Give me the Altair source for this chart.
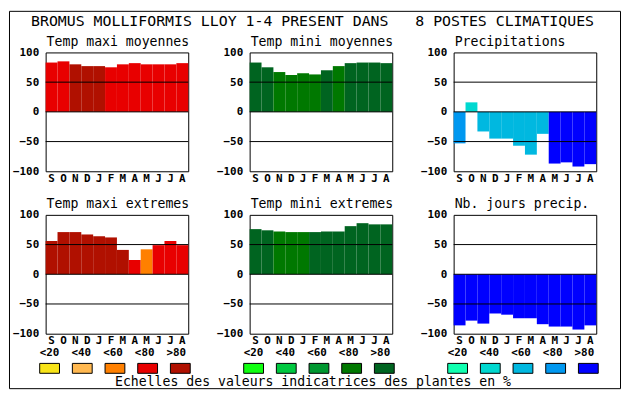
import altair as alt
import pandas as pd

# ---------------- data ----------------
months = ["Sept", "Oct", "Nov", "Dec", "Janv", "Fevr", "Mars", "Avr", "Mai", "Juin", "Juil", "Aout"]
classes = ["<20", "<40", "<60", "<80", ">80"]

red_colors = ["#f8e418", "#ffb850", "#ff8000", "#e80000", "#b01000"]
green_colors = ["#10ff10", "#00c840", "#009830", "#007800", "#006420"]
blue_colors = ["#10ffb0", "#00d8d0", "#00b8e0", "#0098f0", "#0000ff"]

main_title = "BROMUS MOLLIFORMIS LLOY 1-4 PRESENT DANS\u00a0\u00a0\u00a08 POSTES CLIMATIQUES"
legend_title = "Echelles des valeurs indicatrices des plantes en %"

titles = ["Temp maxi moyennes", "Temp mini moyennes", "Precipitations",
          "Temp maxi extremes", "Temp mini extremes", "Nb. jours precip."]

tmax_moy = [83, 85, 80, 77, 77, 75, 80, 82, 80, 80, 80, 82]
tmax_moy_cls = ["<80", "<80", ">80", ">80", ">80", "<80", "<80", "<80", "<80", "<80", "<80", "<80"]

tmin_moy = [83, 75, 67, 62, 65, 63, 70, 77, 82, 83, 83, 82]
tmin_moy_cls = [">80", ">80", "<80", "<80", "<80", "<80", ">80", "<80", ">80", ">80", ">80", ">80"]

precip = [-53, 16, -33, -45, -45, -57, -72, -37, -87, -85, -92, -88]
precip_cls = ["<80", "<40", "<60", "<60", "<60", "<60", "<60", "<60", ">80", ">80", ">80", ">80"]

tmax_ext = [56, 71, 71, 67, 64, 62, 41, 24, 42, 49, 56, 49]
tmax_ext_cls = [">80", ">80", ">80", ">80", ">80", ">80", ">80", "<80", "<60", "<80", "<80", "<80"]

tmin_ext = [76, 74, 72, 71, 71, 71, 72, 72, 81, 86, 84, 84]
tmin_ext_cls = [">80", ">80", "<80", "<80", "<80", ">80", ">80", ">80", ">80", ">80", ">80", ">80"]

nb_jours = [-86, -78, -83, -66, -68, -74, -74, -84, -88, -88, -93, -86]
nb_jours_cls = [">80"] * 12

ref_lines = [-50, 0, 50]
y_ticks = [-100, -50, 0, 50, 100]

FONT = "DejaVu Sans Mono"
W, H = 144, 120
one_row = pd.DataFrame({"f": [0]})


def panel(title, values, cls, colors, legend=False, xtitle=None, heading=None):
    df = pd.DataFrame({"mois": months, "val": values, "cls": cls})
    yscale = alt.Scale(domain=[-100, 100], nice=False, zero=False)
    color = alt.Color("cls:N", scale=alt.Scale(domain=classes, range=colors), legend=None)

    xaxis_kw = dict(labelExpr="substring(datum.label, 0, 1)", labelAngle=0,
                    labelPadding=1, title=None)
    if xtitle:
        xaxis_kw.update(title=xtitle, titleX=63.5, titleY=52, titleAlign="center",
                        titleBaseline="alphabetic", titleFont=FONT, titleFontSize=13.3,
                        titleFontWeight="normal", titleColor="black")

    bars = alt.Chart(df).mark_bar(strokeWidth=0).encode(
        x=alt.X("mois:N", sort=months,
                scale=alt.Scale(paddingInner=0, paddingOuter=0),
                axis=alt.Axis(**xaxis_kw)),
        y=alt.Y("val:Q", scale=yscale,
                axis=alt.Axis(values=y_ticks, labelPadding=7, title=None)),
        color=color,
    )
    rules = alt.Chart(pd.DataFrame({"val": ref_lines})).mark_rule(
        color="black", strokeWidth=1).encode(
        y=alt.Y("val:Q", scale=yscale, axis=None))
    ttl = alt.Chart(one_row).mark_text(
        font=FONT, fontSize=13.3, color="black", align="left", baseline="alphabetic"
    ).encode(x=alt.value(1), y=alt.value(-7), text=alt.value(title))
    layers = [bars, rules, ttl]
    if heading:
        head = alt.Chart(one_row).mark_text(
            font=FONT, fontSize=15, color="black", align="center", baseline="alphabetic"
        ).encode(x=alt.value(63.5), y=alt.value(-26.7), text=alt.value(heading))
        layers.append(head)
    if legend:
        leg = pd.DataFrame({"cls": classes})
        boxes = alt.Chart(leg).mark_rect(stroke="black", strokeWidth=1, width=20).encode(
            x=alt.X("cls:N", sort=classes,
                    scale=alt.Scale(type="point", domain=classes, range=[4, 136], padding=0),
                    axis=None),
            y=alt.value(150), y2=alt.value(160),
            color=color,
        )
        labels = alt.Chart(leg).mark_text(font=FONT, fontSize=11, fontWeight="bold",
                                          color="black", baseline="middle").encode(
            x=alt.X("cls:N", sort=classes,
                    scale=alt.Scale(type="point", domain=classes, range=[4, 132], padding=0),
                    axis=None),
            y=alt.value(140),
            text="cls:N",
        )
        layers += [boxes, labels]
    return alt.layer(*layers).resolve_scale(x="independent", y="independent").properties(
        width=W, height=H)


p1 = panel(titles[0], tmax_moy, tmax_moy_cls, red_colors)
p2 = panel(titles[1], tmin_moy, tmin_moy_cls, green_colors, heading=main_title)
p3 = panel(titles[2], precip, precip_cls, blue_colors)
p4 = panel(titles[3], tmax_ext, tmax_ext_cls, red_colors, legend=True)
p5 = panel(titles[4], tmin_ext, tmin_ext_cls, green_colors, legend=True, xtitle=legend_title)
p6 = panel(titles[5], nb_jours, nb_jours_cls, blue_colors, legend=True)

# outer border of the figure (decoration)
frame = alt.Chart(one_row).mark_rect(
    fill="white", fillOpacity=0, stroke="black", strokeWidth=1).encode(
    x=alt.value(-36.5), x2=alt.value(580.5), y=alt.value(-369.5), y2=alt.value(11.5)
).properties(width=W, height=1, view=alt.ViewBackground(stroke="transparent"))

chart = alt.concat(
    p1, p2, p3, p4, p5, p6, frame,
    columns=3,
    spacing={"row": 44, "column": 62},
    bounds="flush",
).resolve_scale(color="independent").properties(
    padding=0, background="white"
).configure_view(
    stroke="black", strokeWidth=1
).configure_axis(
    labelFont=FONT, labelFontSize=11, labelFontWeight="bold", labelColor="black",
    ticks=False, tickSize=0, domain=False, grid=False,
)

chart.save("out.html", embed_options={"renderer": "svg", "actions": False})
